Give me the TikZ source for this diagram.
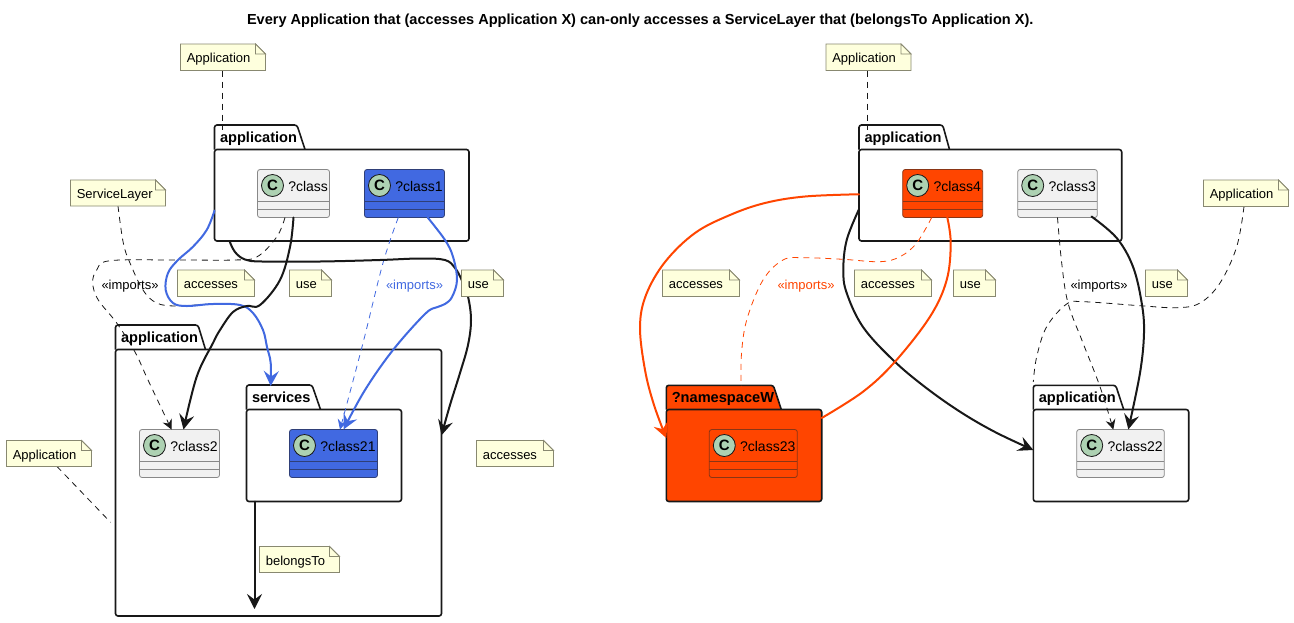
\documentclass[tikz,border=0pt]{standalone}
\usepackage{fontspec}
\setmainfont{Liberation Sans}
\usetikzlibrary{arrows.meta}
\definecolor{notefill}{HTML}{FEFFDD}
\definecolor{noteline}{HTML}{888870}
\definecolor{clsfill}{HTML}{F1F1F1}
\definecolor{clsline}{HTML}{888888}
\definecolor{circfill}{HTML}{ADD1B2}
\definecolor{ink}{HTML}{181818}
\definecolor{blueA}{HTML}{4169E1}
\definecolor{blueB}{HTML}{2F3F78}
\definecolor{orangeA}{HTML}{FF4500}
\definecolor{orangeB}{HTML}{8A3515}
\pgfdeclarelayer{connlayer}
\pgfdeclarelayer{toplayer}
\pgfsetlayers{main,connlayer,toplayer}
\tikzset{
  bigtip/.style={-{Stealth[length=15pt,width=15pt,inset=5.5pt]}},
  smalltip/.style={-{Stealth[length=10pt,width=10pt,inset=3.5pt]}},
  conn/.style={line width=2pt,draw=ink,line cap=round},
  dashconn/.style={line width=.8pt,draw=ink,dash pattern=on 6pt off 5pt},
  txt/.style={inner sep=0pt,outer sep=0pt,anchor=base west},
  notestyle/.style={draw=noteline,fill=notefill,line width=.8pt,line join=miter},
  pkgstyle/.style={draw=ink,line width=1.6pt,rounded corners=2.5pt},
  clsstyle/.style={line width=.8pt,rounded corners=2.5pt},
  curve/.style={smooth,tension=.6},
}
% name, x1, y1, x2, y2, text
\newcommand{\notebox}[6]{%
  \path[notestyle] (#2,#3) -- ({#4-10},#3) -- (#4,{#3+10}) -- (#4,#5) -- (#2,#5) -- cycle;
  \path[notestyle] ({#4-10},#3) -- ({#4-10},{#3+10}) -- (#4,{#3+10}) -- cycle;
  \node[inner xsep=6.3pt,inner ysep=0pt,outer sep=0pt,minimum width={(#4-#2)*1pt},minimum height={(#5-#3)*1pt},
    text width={(#4-#2-12.6)*1pt},align=left,text height=12pt,text depth=1pt,font=\fontsize{13}{15}\selectfont]
    (#1) at ({(#2+#4)/2},{(#3+#5)/2}) {#6};
}
% name, x1, x2, ytop, text, fill, border
\newcommand{\clsbox}[7]{%
  \node[clsstyle,draw=#7,fill=#6,inner sep=0pt,outer sep=0pt,minimum width={(#3-#2)*1pt},minimum height=48pt]
    (#1) at ({(#2+#3)/2},{#4+24}) {};
  \draw[#7,line width=.8pt] (#2,{#4+32}) -- (#3,{#4+32}) (#2,{#4+40}) -- (#3,{#4+40});
  \node[circle,draw=ink,fill=circfill,line width=.8pt,minimum size=22pt,inner sep=0pt,font=\fontsize{15}{15}\bfseries\selectfont,text=black]
    (#1-c) at ({#2+15},{#4+16}) {C};
  \node[txt,font=\fontsize{14}{16}\selectfont,text=black] (#1-l) at ({#2+30.8},{#4+21.5}) {#5};
}
% name, x1, ytop, ybody, x2, ybot, tab top right, tab bottom right, label, fill
\newcommand{\pkgbox}[9]{%
  \def\pkgname{#1}\def\pkgxa{#2}\def\pkgyt{#3}\def\pkgyb{#4}\def\pkgxb{#5}\def\pkgybot{#6}\def\pkgta{#7}\def\pkgtb{#8}\def\pkglabel{#9}%
  \pkgboxrest}
\newcommand{\pkgboxrest}[1]{%
  \path[pkgstyle,fill=#1] (\pkgxa,\pkgyb) -- (\pkgxa,\pkgyt) -- (\pkgta,\pkgyt) -- (\pkgtb,\pkgyb);
  \node[pkgstyle,fill=#1,inner sep=0pt,outer sep=0pt,minimum width={(\pkgxb-\pkgxa)*1pt},minimum height={(\pkgybot-\pkgyb)*1pt}]
    (\pkgname) at ({(\pkgxa+\pkgxb)/2},{(\pkgyb+\pkgybot)/2}) {};
  \coordinate (\pkgname-tl) at (\pkgxa,\pkgyt);
  \node[txt,font=\fontsize{14.6}{16}\bfseries\selectfont,text=black] (\pkgname-l) at ({\pkgxa+5.5},{\pkgyt+17.5}) {\pkglabel};
}
\begin{document}
\begin{tikzpicture}[x=1pt,y=-1pt]
\useasboundingbox (0,0) rectangle (1294,622);
\fill[white] (0,0) rectangle (1294,622);

\node[txt,font=\fontsize{14.55}{16}\bfseries\selectfont] (title) at (247,24.5) {Every Application that (accesses Application X) can-only accesses a ServiceLayer that (belongsTo Application X).};

% packages and classes
\pkgbox{a1}{214.5}{125}{149.5}{469}{241}{297}{305}{application}{white}
\pkgbox{a2}{115.5}{325}{349.5}{441.5}{616}{198}{205.5}{application}{white}
\pkgbox{sv}{246.5}{385}{409.5}{401.5}{501.5}{312}{320.5}{services}{white}
\pkgbox{a3}{859}{125}{149.5}{1121.7}{241}{942.7}{949.5}{application}{white}
\pkgbox{ns}{666.3}{385.3}{409.5}{821.7}{501.5}{773.3}{781.3}{?namespaceW}{orangeA}
\pkgbox{a4}{1033.3}{385.3}{409.5}{1188.7}{501.5}{1115.7}{1123.7}{application}{white}

\clsbox{c0}{257.5}{329.5}{169.5}{?class}{clsfill}{clsline}
\clsbox{c1}{364.5}{444.5}{169.5}{?class1}{blueA}{blueB}
\clsbox{c2}{139.5}{219.5}{429.5}{?class2}{clsfill}{clsline}
\clsbox{c21}{289.5}{377.5}{429.5}{?class21}{blueA}{blueB}
\clsbox{c4}{902.7}{982.7}{169.5}{?class4}{orangeA}{orangeB}
\clsbox{c3}{1017.7}{1097.3}{169.5}{?class3}{clsfill}{clsline}
\clsbox{c23}{709.3}{797.3}{429.5}{?class23}{orangeA}{orangeB}
\clsbox{c22}{1076.7}{1164.3}{429.5}{?class22}{clsfill}{clsline}

% notes (above the connectors)
\begin{pgfonlayer}{toplayer}
\notebox{n1}{180.5}{44}{265.5}{70.5}{Application}
\notebox{n2}{70.5}{180}{165.5}{206}{ServiceLayer}
\notebox{n3}{177.5}{270}{254.5}{296.5}{accesses}
\notebox{n4}{289.5}{270}{331.5}{296.5}{use}
\notebox{n5}{461.5}{270}{503.5}{296.5}{use}
\notebox{n6}{6.5}{440.5}{91.5}{466.5}{Application}
\notebox{n7}{259.5}{546.5}{339.5}{572.5}{belongsTo}
\notebox{n8}{476.5}{440.5}{553.5}{466.5}{accesses}
\notebox{n9}{826}{44}{911}{70.5}{Application}
\notebox{n10}{662.5}{270}{739.5}{296.5}{accesses}
\notebox{n11}{854.5}{270}{931.5}{296.5}{accesses}
\notebox{n12}{953.5}{270}{995.5}{296.5}{use}
\notebox{n13}{1145.5}{270}{1187.5}{296.5}{use}
\notebox{n14}{1203.5}{180}{1288.5}{206.5}{Application}
\end{pgfonlayer}

\coordinate (btend) at (254.5,609);

\begin{pgfonlayer}{connlayer}
% note links
\draw[dashconn] ([xshift=-1pt]n1.south) -- ([xshift=7.5pt,yshift=-5pt]a1-tl);
\draw[dashconn] ([xshift=-1pt]n9.south) -- ([xshift=8.5pt,yshift=-5pt]a3-tl);
\draw[dashconn] ([xshift=8pt]n6.south) -- ([xshift=-5pt,yshift=-39.5pt]a2.west);
\draw[dashconn] plot[curve] coordinates {(n2.south) (123.3,243) (130,263) (143,290) (156.7,303) (176.7,306) (213,304) (240,305) (253,313) (263,330) (267,347) (270.7,363) ([xshift=24.2pt,yshift=-1pt]sv-tl)};
\draw[dashconn] plot[curve] coordinates {([xshift=-2pt]n14.south) (1236.7,246.7) (1220,283) (1200,303) (1176.7,307.7) (1140,305.7) (1083,301.7) (1066.7,304) (1046.7,326.7) (1036.7,356.7) ([yshift=3.5pt]a4-tl)};

% imports
\draw[dashconn,smalltip] plot[curve] coordinates {([xshift=-8.5pt]c0.south) (276.7,237) (256.7,257) (233,260) (176.7,260) (110,260.7) (96.7,270) (92.7,283) (98.3,300) (116.7,323) (135,352) (148,380) ([xshift=-8pt]c2.north)};
\draw[dashconn,draw=blueA,smalltip] plot[curve] coordinates {([xshift=-6.2pt]c1.south) (383,263) (363,343) ([xshift=6.5pt]c21.north)};
\draw[dashconn,draw=orangeA] plot[curve] coordinates {([xshift=-11pt]c4.south) (916.7,243) (900,256.7) (880,261.7) (843,259.3) (803,257.7) (783,260) (763,280) (746.7,320) (741.3,356.7) ([xshift=75pt,yshift=-5pt]ns-tl)};
\draw[dashconn,smalltip] plot[curve] coordinates {(c3.south) (1061.7,263) (1068,303) (1083,343) (1100,386.7) ([xshift=-7.2pt]c22.north)};

% use and accesses
\draw[conn,draw=blueA,bigtip] plot[curve] coordinates {([yshift=-15.4pt]a1.west) (206.7,230) (193,246.7) (178,260) (168,273) (165.7,290) (173,303) (186.7,306) (213,304) (240,305) (253,313) (263,330) (267,347) (270.7,363) ([xshift=24.2pt,yshift=-1pt]sv-tl)};
\draw[conn,bigtip] plot[curve] coordinates {(c0.south) (290,247) (280,280) (260,305) (246.7,306) (233,312) (220,330) (213,343) (196.7,376.7) ([xshift=4pt]c2.north)};
\draw[conn,bigtip] plot[curve] coordinates {([xshift=15pt]a1.south west) (235,252) (245,259.5) (262,261.5) (320,261.5) (380,260) (420,258.5) (445,260) (455,268) (461.7,280) (468,296.5) (471,320) (468,345) (460,373) (450,405) ([yshift=47.5pt]a2.east)};
\draw[conn,draw=blueA,bigtip] plot[curve] coordinates {([xshift=23.2pt]c1.south) (445,240) (453,256.7) (457,280) (452,297) (445,304) (436.7,307.3) (425,314) (393,350) (365,390) ([xshift=10pt]c21.north)};
\draw[conn,bigtip] ([xshift=8pt]sv.south west) -- (btend);
\draw[conn,draw=orangeA,bigtip] plot[curve] coordinates {([yshift=1pt]a3.west) (805,196.5) (765,203) (730,215) (695,233) (665,262) (646,295) (640,327) (645,370) (654,405) ([yshift=17.5pt]ns.west)};
\draw[conn,bigtip] plot[curve] coordinates {([yshift=-14pt]a3.west) (846.7,240) (843.3,270) (846.7,293) (863,327) (893,360) (925,387) (960,411.7) (995,432) ([yshift=5.5pt]a4.west)};
\draw[conn,draw=orangeA] plot[curve] coordinates {([xshift=4.6pt]c4.south) (950.7,243) (946.7,280) (930,316.7) (895,361.7) (863,391.7) ([yshift=37.5pt]ns.east)};
\draw[conn,bigtip] plot[curve] coordinates {([xshift=34pt,yshift=1pt]c3.south) (1116.7,238) (1133,266.7) (1141.7,303) (1144,333) (1140,373) ([xshift=7.8pt]c22.north)};

\node[txt,font=\fontsize{13}{15}\selectfont] (l1) at (101.5,289) {«imports»};
\node[txt,font=\fontsize{13}{15}\selectfont,text=blueA] (l2) at (386,289) {«imports»};
\node[txt,font=\fontsize{13}{15}\selectfont,text=orangeA] (l3) at (777.5,289) {«imports»};
\node[txt,font=\fontsize{13}{15}\selectfont] (l4) at (1070.5,289) {«imports»};
\end{pgfonlayer}
\end{tikzpicture}
\end{document}
